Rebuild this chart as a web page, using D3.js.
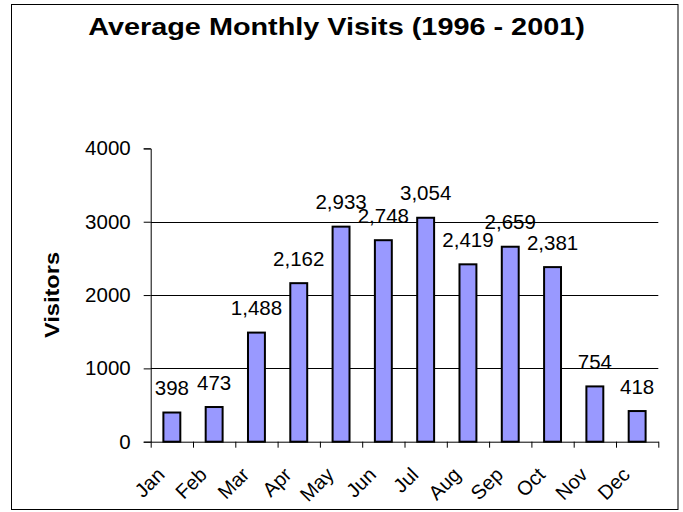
<!DOCTYPE html>
<html>
<head>
<meta charset="utf-8">
<script src="https://cdn.jsdelivr.net/npm/d3@7"></script>
<style>
  html, body { margin: 0; padding: 0; background: #fff; }
  svg { display: block; font-family: Arial, "Liberation Sans", sans-serif; }
</style>
</head>
<body>
<svg id="chart" width="683" height="512"></svg>
<script>
const months = ["Jan","Feb","Mar","Apr","May","Jun","Jul","Aug","Sep","Oct","Nov","Dec"];
const visits = [398, 473, 1488, 2162, 2933, 2748, 3054, 2419, 2659, 2381, 754, 418];
const yTicks = [0, 1000, 2000, 3000, 4000];
const gridTicks = [1000, 2000, 3000];
const titleText = "Average Monthly Visits (1996 - 2001)";
const yTitle = "Visitors";

const svg = d3.select("#chart");
const plotLeft = 150.7, plotRight = 658.3, plotTop = 148.4, plotBottom = 441.7;

// outer border
svg.append("rect")
  .attr("x", 11.5).attr("y", 4.5).attr("width", 666.5).attr("height", 505)
  .attr("fill", "#fff").attr("stroke", "#000").attr("stroke-width", 1);

// title (stretched horizontally to match width)
const titleG = svg.append("g");
const titleT = titleG.append("text")
  .attr("x", 0).attr("y", 0)
  .attr("text-anchor", "middle")
  .attr("font-weight", "bold").attr("font-size", 24)
  .text(titleText);
const tw = titleT.node().getComputedTextLength();
titleG.attr("transform", `translate(336.5,35) scale(${497 / tw},1)`);

const y = d3.scaleLinear().domain([0, 4000]).range([plotBottom, plotTop]);
const x = d3.scaleBand().domain(months).range([plotLeft, plotRight])
  .paddingInner(0.6).paddingOuter(0.3);
const xb = d3.scaleLinear().domain([0, months.length]).range([plotLeft, plotRight]);

// gridlines
svg.append("g").selectAll("line").data(gridTicks).join("line")
  .attr("x1", plotLeft).attr("x2", plotRight)
  .attr("y1", d => Math.round(y(d)) + 0.5).attr("y2", d => Math.round(y(d)) + 0.5)
  .attr("stroke", "#000").attr("stroke-width", 1);

// bars
svg.append("g").selectAll("rect").data(visits).join("rect")
  .attr("x", (d, i) => x(months[i]))
  .attr("y", d => y(d))
  .attr("width", x.bandwidth())
  .attr("height", d => plotBottom - y(d))
  .attr("fill", "#9999FF").attr("stroke", "#000").attr("stroke-width", 2);

// y axis
const yAxis = svg.append("g")
  .attr("transform", `translate(${plotLeft},0)`)
  .call(d3.axisLeft(y).tickValues(yTicks).tickFormat(d3.format("d"))
    .tickSize(7).tickPadding(13));
yAxis.select(".domain").attr("stroke", "#000");
yAxis.selectAll(".tick line").attr("stroke", "#000");
yAxis.selectAll("text").attr("font-size", 20.5).attr("fill", "#000")
  .attr("font-family", "Arial, 'Liberation Sans', sans-serif");

// x axis (boundary ticks)
const xAxis = svg.append("g")
  .attr("transform", `translate(0,${plotBottom})`)
  .call(d3.axisBottom(xb).tickValues(d3.range(months.length + 1))
    .tickFormat("").tickSize(6).tickSizeOuter(0));
xAxis.select(".domain").attr("stroke", "#000");
xAxis.selectAll(".tick line").attr("stroke", "#000");

// month labels
svg.append("g").selectAll("text").data(months).join("text")
  .attr("transform", d => `translate(${x(d) + x.bandwidth() / 2 - 6},476) rotate(-45)`)
  .attr("text-anchor", "end")
  .attr("font-size", 20)
  .text(d => d);

// data labels
const fmt = d3.format(",");
svg.append("g").selectAll("text").data(visits).join("text")
  .attr("x", (d, i) => x(months[i]) + x.bandwidth() / 2)
  .attr("y", d => y(d) - 17.5)
  .attr("text-anchor", "middle")
  .attr("font-size", 20.5)
  .text(d => fmt(d));

// y title (stretched along its length)
const ytG = svg.append("g");
const ytT = ytG.append("text")
  .attr("x", 0).attr("y", 0)
  .attr("text-anchor", "middle")
  .attr("font-weight", "bold").attr("font-size", 20)
  .text(yTitle);
const yw = ytT.node().getComputedTextLength();
ytG.attr("transform", `translate(58.5,295) rotate(-90) scale(${86 / yw},1)`);
</script>
</body>
</html>
